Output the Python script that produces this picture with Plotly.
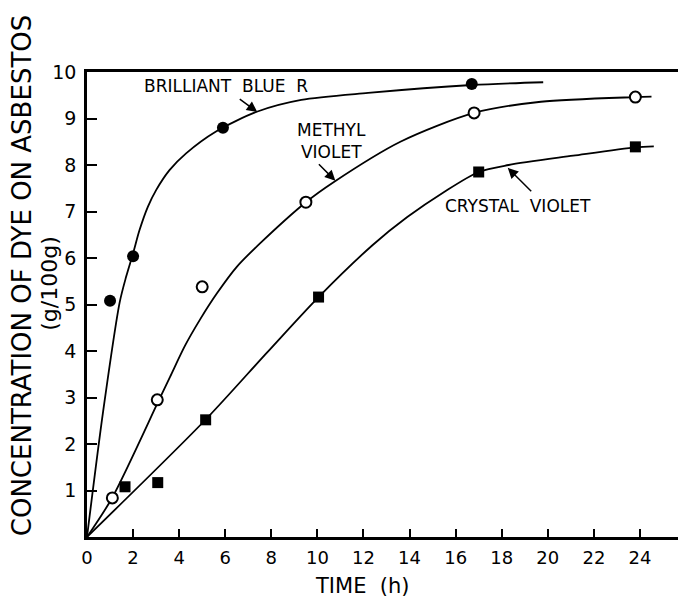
import plotly.graph_objects as go

# Measured data points
bb_t = [1.0, 2.0, 5.9, 16.7]
bb_c = [5.08, 6.04, 8.8, 9.74]
mv_t = [1.1, 3.05, 5.0, 9.5, 16.8, 23.8]
mv_c = [0.84, 2.95, 5.38, 7.2, 9.12, 9.46]
cv_t = [1.65, 3.07, 5.15, 10.05, 17.0, 23.8]
cv_c = [1.08, 1.17, 2.52, 5.16, 7.85, 8.39]

# Hand-drawn fitted curves
bb_curve_t = [0, 0.7, 1.42, 1.7, 2.0, 2.28, 2.64, 3.0, 3.58, 4.3, 5.6, 7.4, 9.3, 12.2, 16.7, 19.8]
bb_curve_c = [0, 2.7, 5.05, 5.6, 6.1, 6.6, 7.1, 7.46, 7.89, 8.25, 8.72, 9.15, 9.4, 9.55, 9.72, 9.78]
mv_curve_t = [0, 1.1, 3.1, 3.61, 4.26, 4.91, 5.64, 6.5, 7.52, 9.5, 10.7, 13.6, 16.8, 19.7, 23.8, 24.5]
mv_curve_c = [0, 0.85, 2.92, 3.45, 4.12, 4.68, 5.24, 5.81, 6.32, 7.2, 7.63, 8.5, 9.12, 9.36, 9.46, 9.47]
cv_curve_t = [0, 5.1, 7.8, 10.05, 12.4, 13.9, 15.5, 17.0, 18.3, 21.1, 23.8, 24.6]
cv_curve_c = [0, 2.5, 3.96, 5.16, 6.28, 6.88, 7.42, 7.85, 8.0, 8.2, 8.38, 8.4]

x_ticks = [0, 2, 4, 6, 8, 10, 12, 14, 16, 18, 20, 22, 24]
y_ticks = [1, 2, 3, 4, 5, 6, 7, 8, 9, 10]

FONT = "DejaVu Sans"
fig = go.Figure()

for ct, cc in [(bb_curve_t, bb_curve_c), (mv_curve_t, mv_curve_c), (cv_curve_t, cv_curve_c)]:
    fig.add_trace(go.Scatter(x=ct, y=cc, mode="lines",
                             line=dict(color="black", width=1.8, shape="spline", smoothing=0.8),
                             showlegend=False, hoverinfo="skip"))

fig.add_trace(go.Scatter(x=bb_t, y=bb_c, mode="markers",
                         marker=dict(symbol="circle", size=12, color="black"), showlegend=False))
fig.add_trace(go.Scatter(x=mv_t, y=mv_c, mode="markers",
                         marker=dict(symbol="circle", size=11, color="white",
                                     line=dict(color="black", width=2)), showlegend=False))
fig.add_trace(go.Scatter(x=cv_t, y=cv_c, mode="markers",
                         marker=dict(symbol="square", size=11, color="black"), showlegend=False))

ann_font = dict(family=FONT, size=17, color="black")
arrow = dict(text="", showarrow=True, arrowhead=2, arrowsize=1.4, arrowwidth=1.5, arrowcolor="black")
annotations = [
    dict(x=6.04, y=9.70, text="BRILLIANT  BLUE  R", showarrow=False, font=ann_font),
    dict(x=10.6, y=8.52, text="METHYL<br>VIOLET", showarrow=False, font=ann_font, align="center"),
    dict(x=18.7, y=7.12, text="CRYSTAL  VIOLET", showarrow=False, font=ann_font),
    dict(x=7.39, y=9.14, ax=-19, ay=-14, **arrow),
    dict(x=10.78, y=7.66, ax=-18, ay=-18, **arrow),
    dict(x=18.26, y=7.94, ax=25, ay=25, **arrow),
    dict(xref="paper", yref="paper", x=-0.110, y=0.563, xanchor="center", yanchor="middle",
         text="CONCENTRATION OF DYE ON ASBESTOS",
         textangle=-90, showarrow=False, font=dict(family=FONT, size=26, color="black")),
    dict(xref="paper", yref="paper", x=-0.064, y=0.545, xanchor="center", yanchor="middle",
         text="(g/100g)",
         textangle=-90, showarrow=False, font=dict(family=FONT, size=22, color="black")),
    dict(xref="paper", yref="paper", x=0.465, y=-0.105, xanchor="center", yanchor="middle",
         text="TIME  (h)",
         showarrow=False, font=dict(family=FONT, size=21, color="black")),
]

fig.update_layout(
    width=679, height=597,
    margin=dict(l=87, r=1, t=72, b=60, autoexpand=False),
    paper_bgcolor="white", plot_bgcolor="white",
    annotations=annotations,
    xaxis=dict(range=[0, 25.65], tickvals=x_ticks, ticktext=[str(v) for v in x_ticks],
               ticks="inside", ticklen=8, tickwidth=1.5, tickcolor="black",
               showline=True, linewidth=2.5, linecolor="black", mirror=True,
               showgrid=False, zeroline=False, ticklabelstandoff=3,
               tickfont=dict(family=FONT, size=18, color="black")),
    yaxis=dict(range=[0, 10], tickvals=y_ticks, ticktext=[str(v) for v in y_ticks],
               ticks="inside", ticklen=10, tickwidth=1.5, tickcolor="black",
               showline=True, linewidth=2.5, linecolor="black",
               showgrid=False, zeroline=False, ticklabelstandoff=4,
               tickfont=dict(family=FONT, size=19, color="black")),
)

# remove the browser's default 8px body margin so the figure fills the window exactly
fig.write_html("out.html", config={"displayModeBar": False},
               post_script="document.body.style.margin='0';document.body.style.overflow='hidden';")
